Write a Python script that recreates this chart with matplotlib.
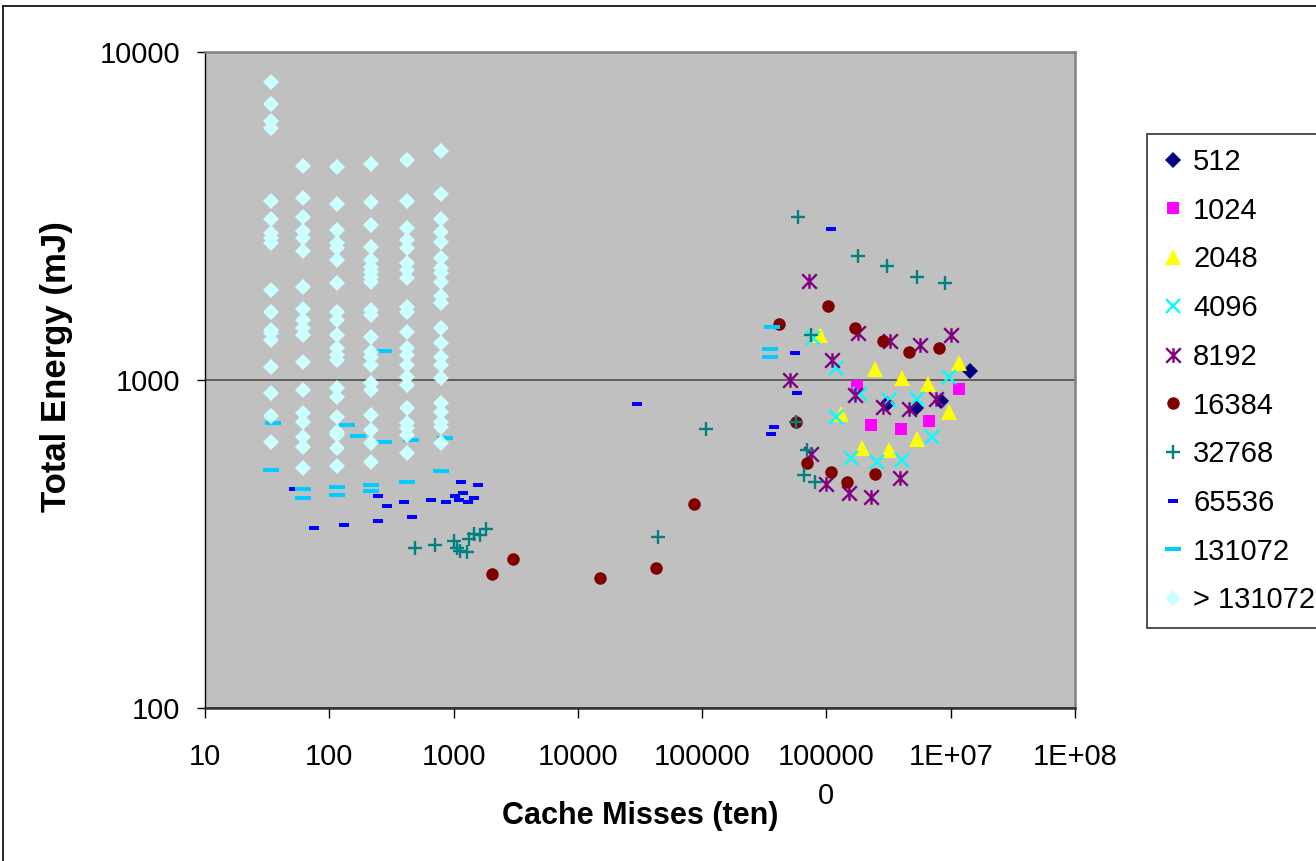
import numpy as np
import matplotlib
matplotlib.use("Agg")
import matplotlib.pyplot as plt
from matplotlib.path import Path
from matplotlib.lines import Line2D

plt.rcParams['font.family'] = ['Liberation Sans', 'DejaVu Sans']

# -------------------------------
# DATA (cache misses in tens, total energy in mJ)
# -------------------------------

s512_x = [3.06e6, 5.28e6, 8.38e6, 1.44e7]
s512_y = [847, 824, 863, 1064]

s1024_x = [1.75e6, 2.29e6, 3.98e6, 6.64e6, 1.16e7]
s1024_y = [961, 729, 708, 752, 940]

s2048_x = [8.87e5, 1.30e6, 1.94e6, 2.44e6, 3.21e6, 4.06e6, 5.35e6, 6.53e6, 9.62e6, 1.17e7]
s2048_y = [1372, 786, 620, 1078, 612, 1017, 659, 973, 801, 1129]

s4096_x = [7.8e5, 1.2e6, 1.2e6, 1.59e6, 1.85e6, 2.53e6, 3.21e6, 4.06e6, 5.35e6, 7.06e6, 9.62e6]
s4096_y = [1340, 1086, 769, 577, 904, 561, 869, 569, 875, 668, 1018]

s8192_x = [5.07e5, 7.24e5, 7.48e5, 9.86e5, 1.11e6, 1.52e6, 1.71e6, 1.79e6,
           2.27e6, 2.86e6, 3.24e6, 3.89e6, 4.59e6, 5.63e6, 7.66e6, 1.0e7]
s8192_y = [1000, 2005, 593, 481, 1151, 452, 900, 1393,
           441, 829, 1314, 504, 814, 1278, 875, 1374]

s16384_x = [2056, 3033, 15200, 42600, 86400, 4.16e5, 5.73e5, 7.02e5,
            1.03e6, 1.08e6, 1.47e6, 1.71e6, 2.45e6, 2.86e6, 4.59e6, 8.0e6]
s16384_y = [256, 285, 249, 268, 420, 1479, 745, 560,
            1687, 525, 490, 1438, 518, 1313, 1214, 1253]

s32768_x = [492, 705, 1005, 1072, 1129, 1271, 1327, 1455, 1626, 1816, 43900, 108000,
            5.9e5, 1.79e6, 3.1e6, 5.35e6, 8.94e6, 7.47e5, 5.69e5, 7.01e5, 6.6e5, 8.09e5]
s32768_y = [307, 313, 322, 307, 302, 299, 327, 339, 338, 352, 333, 711,
            3133, 2388, 2227, 2056, 1972, 1372, 745, 612, 513, 490]

s65536_x = [52, 76, 132, 248, 248, 292, 399, 463, 657, 867, 1024, 1109, 1145,
            1194, 1295, 1455, 1575, 30100, 1.09e6, 5.58e5, 5.83e5, 3.77e5, 3.6e5]
s65536_y = [465, 355, 361, 444, 372, 413, 426, 382, 430, 426, 444, 432, 487,
            451, 426, 438, 480, 845, 2884, 1211, 910, 718, 684]

s131072_x = [35, 34, 61, 61, 115, 115, 140, 171, 216, 216, 274, 274, 420, 454,
             791, 856, 3.67e5, 3.52e5, 3.52e5]
s131072_y = [738, 532, 465, 438, 473, 445, 729, 677, 480, 459, 1228, 646, 490, 657,
             528, 667, 1449, 1245, 1178]

# > 131072: six cache sizes, energies per column
big_cols_x = [34, 61, 116, 217, 422, 791]
big_cols_y = [
    [8120, 6935, 6160, 5870, 3520, 3097, 2808, 2712, 2618, 1880, 1614, 1419, 1389, 1324, 1098, 915, 777, 648],
    [4490, 3590, 3140, 2846, 2710, 2473, 1922, 1645, 1524, 1441, 1372, 1135, 933, 793, 745, 670, 625, 539],
    [4470, 3440, 2868, 2617, 2525, 2322, 1977, 1614, 1524, 1372, 1253, 1192, 1151, 946, 890, 771, 696, 679, 620, 545],
    [4550, 3490, 2970, 2548, 2322, 2215, 2137, 2064, 1994, 1634, 1578, 1355, 1220, 1177, 1111, 979, 933, 782, 704, 641, 564],
    [4690, 3520, 2914, 2672, 2531, 2270, 2165, 2041, 1672, 1614, 1403, 1250, 1192, 1111, 1024, 966, 820, 738, 713, 679, 598],
    [4990, 3690, 3097, 2826, 2635, 2355, 2194, 2120, 1990, 1804, 1718, 1441, 1297, 1175, 1111, 1013, 851, 798, 745, 719, 643],
]
big_x = [x for x, col in zip(big_cols_x, big_cols_y) for _ in col]
big_y = [y for col in big_cols_y for y in col]

x_tick_labels = ['10', '100', '1000', '10000', '100000', '100000\n0', '1E+07', '1E+08']
y_tick_labels = ['100', '1000', '10000']

# -------------------------------
# MARKERS
# -------------------------------

star_marker = Path([(-1, -1), (1, 1), (-1, 1), (1, -1), (0, -1), (0, 1)],
                   [Path.MOVETO, Path.LINETO] * 3)


def dash(ratio):
    return Path([(-1, -ratio), (1, -ratio), (1, ratio), (-1, ratio), (-1, -ratio)],
                [Path.MOVETO, Path.LINETO, Path.LINETO, Path.LINETO, Path.CLOSEPOLY])


series = [
    ('512', s512_x, s512_y, dict(marker='D', ms=7.8, color='#000080', mew=0)),
    ('1024', s1024_x, s1024_y, dict(marker='s', ms=9.3, color='#FF00FF', mew=0)),
    ('2048', s2048_x, s2048_y, dict(marker='^', ms=11.5, color='#FFFF00', mew=0)),
    ('4096', s4096_x, s4096_y, dict(marker='x', ms=10, color='#00FFFF', mew=1.7)),
    ('8192', s8192_x, s8192_y, dict(marker=star_marker, ms=10.5, color='#800080',
                                    mfc='none', mec='#800080', mew=1.7)),
    ('16384', s16384_x, s16384_y, dict(marker='o', ms=9, color='#800000', mew=0)),
    ('32768', s32768_x, s32768_y, dict(marker='+', ms=10, color='#008080', mew=1.7)),
    ('65536', s65536_x, s65536_y, dict(marker=dash(0.45), ms=6.8, color='#0000FF', mew=0)),
    ('131072', s131072_x, s131072_y, dict(marker=dash(0.3), ms=11.5, color='#00CCFF', mew=0)),
    ('> 131072', big_x, big_y, dict(marker='D', ms=8.2, color='#CCFFFF', mew=0)),
]

# -------------------------------
# PLOT
# -------------------------------

fig = plt.figure(figsize=(13.16, 8.61), dpi=100)
ax = fig.add_axes([205 / 1316, 1 - 708 / 861, 870 / 1316, 656 / 861])
ax.set_facecolor('#C0C0C0')

handles = []
for i, (name, xs, ys, style) in enumerate(series):
    h, = ax.plot(xs, ys, linestyle='none', label=name, zorder=3 + i, **style)
    handles.append(h)

ax.set_xscale('log')
ax.set_yscale('log')
ax.set_xlim(10, 1e8)
ax.set_ylim(100, 10000)

ax.set_xticks([10 ** k for k in range(1, 9)])
ax.set_xticklabels(x_tick_labels, linespacing=1.5)
ax.set_yticks([100, 1000, 10000])
ax.set_yticklabels(y_tick_labels)
ax.minorticks_off()

ax.tick_params(axis='x', direction='out', length=7, width=1, pad=18, labelsize=21)
ax.tick_params(axis='y', direction='out', length=6, width=1, pad=12, labelsize=21)

ax.grid(axis='y', color='#4d4d4d', linewidth=1.2)
ax.set_axisbelow(True)

for side in ['top', 'right']:
    ax.spines[side].set_color('#808080')
    ax.spines[side].set_linewidth(1.8)
ax.spines['left'].set_color('black')
ax.spines['left'].set_linewidth(1)
ax.spines['bottom'].set_color('#303030')
ax.spines['bottom'].set_linewidth(1.8)

ax.set_xlabel('Cache Misses (ten)', fontsize=22, fontweight='bold')
ax.xaxis.set_label_coords(0.5, -0.142)
ax.set_ylabel('Total Energy (mJ)', fontsize=25, fontweight='bold')
ax.yaxis.set_label_coords(-0.152, 0.52)

leg = fig.legend(handles=handles, loc='upper left',
                 bbox_to_anchor=(1147 / 1316, 1 - 134 / 861),
                 bbox_transform=fig.transFigure, fontsize=21,
                 frameon=True, fancybox=False, edgecolor='black',
                 borderpad=0.48, handlelength=0.8, handletextpad=0.3,
                 labelspacing=0.71, borderaxespad=0, numpoints=1)
leg.get_frame().set_linewidth(1.2)

# chart area border (top and left edges)
fig.add_artist(Line2D([3 / 1316, 1], [1 - 6 / 861, 1 - 6 / 861], color='black', lw=1.2,
                      transform=fig.transFigure))
fig.add_artist(Line2D([3 / 1316, 3 / 1316], [0, 1 - 6 / 861], color='black', lw=1.2,
                      transform=fig.transFigure))

fig.savefig('out.png', dpi=100)
